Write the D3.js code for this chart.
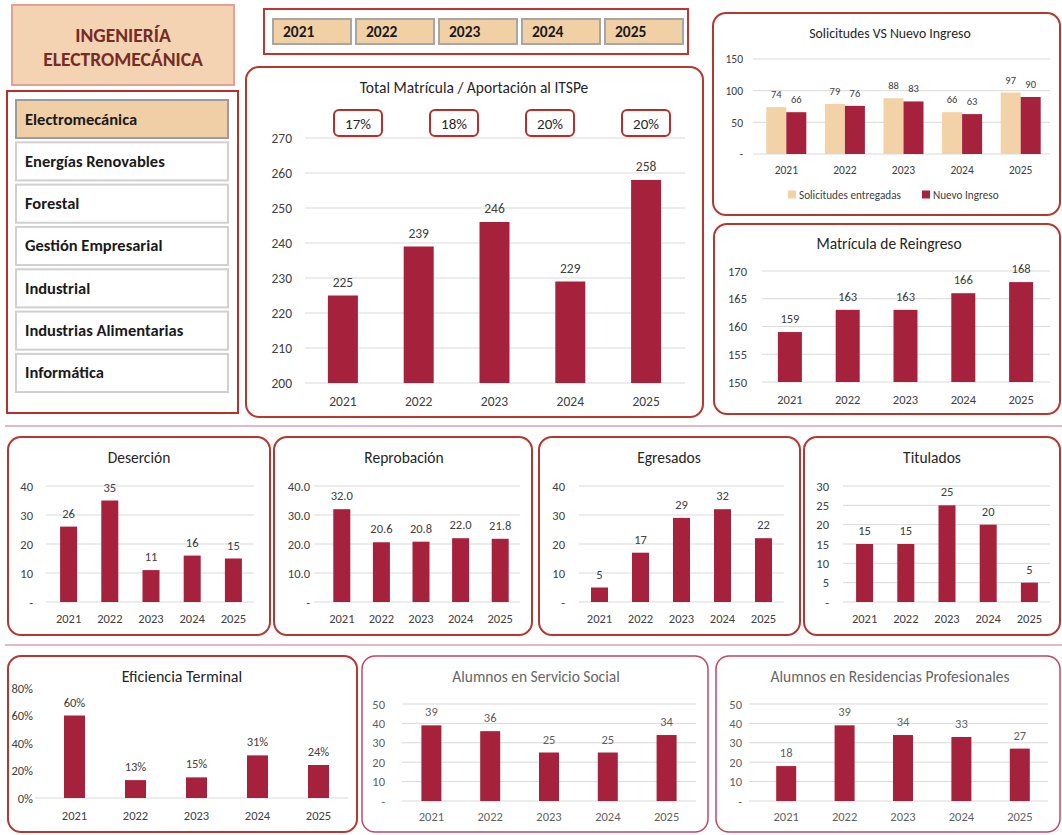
<!DOCTYPE html>
<html lang="es">
<head>
<meta charset="utf-8">
<script src="https://cdn.jsdelivr.net/npm/d3@7"></script>
<style>
  html, body { margin: 0; padding: 0; background: #ffffff; }
  svg { display: block; }
</style>
</head>
<body>
<script>
// ---- Data -------------------------------------------------------------
const years = ["2021", "2022", "2023", "2024", "2025"];
const carreras = ["Electromecánica", "Energías Renovables", "Forestal", "Gestión Empresarial",
                  "Industrial", "Industrias Alimentarias", "Informática"];
const totalMatricula = [225, 239, 246, 229, 258];
const aportacion = ["17%", "18%", "20%", "20%"];
const solicitudes = [74, 79, 88, 66, 97];
const nuevoIngreso = [66, 76, 83, 63, 90];
const reingreso = [159, 163, 163, 166, 168];
const desercion = [26, 35, 11, 16, 15];
const reprobacion = [32.0, 20.6, 20.8, 22.0, 21.8];
const egresados = [5, 17, 29, 32, 22];
const titulados = [15, 15, 25, 20, 5];
const eficiencia = [0.60, 0.13, 0.15, 0.31, 0.24];
const servicioSocial = [39, 36, 25, 25, 34];
const residencias = [18, 39, 34, 33, 27];

const ticksMatricula = [200, 210, 220, 230, 240, 250, 260, 270];
const ticksSolicitudes = [0, 50, 100, 150];
const ticksReingreso = [150, 155, 160, 165, 170];
const ticks40 = [0, 10, 20, 30, 40];
const ticks30 = [0, 5, 10, 15, 20, 25, 30];
const ticksEficiencia = [0, 0.2, 0.4, 0.6, 0.8];
const ticks50 = [0, 10, 20, 30, 40, 50];

// ---- Style ------------------------------------------------------------
const FONT = "Carlito, Calibri, Lato, 'Open Sans', sans-serif";
const BAR = "#a6213c";
const BEIGE = "#f2d2a6";
const PANEL_STROKE = "#b5382f";
const GRID = "#d9d9d9";
const TXT = "#404040";

const svg = d3.select("body").append("svg")
  .attr("width", 1062).attr("height", 835)
  .style("font-family", FONT);

// ---- Header and menu --------------------------------------------------
svg.append("rect").attr("x", 12).attr("y", 5).attr("width", 222).attr("height", 80)
  .attr("fill", "#f4d3b2").attr("stroke", "#e3a196").attr("stroke-width", 2);
svg.append("text").attr("x", 123).attr("y", 42).attr("text-anchor", "middle")
  .attr("font-size", 19.5).attr("font-weight", 700).attr("fill", "#762c26").text("INGENIERÍA");
svg.append("text").attr("x", 123).attr("y", 66).attr("text-anchor", "middle")
  .attr("font-size", 19.5).attr("font-weight", 700).attr("fill", "#762c26").text("ELECTROMECÁNICA");

svg.append("rect").attr("x", 264).attr("y", 9).attr("width", 424).attr("height", 45)
  .attr("fill", "#fff").attr("stroke", "#c0352f").attr("stroke-width", 2);
const yearBtn = d3.scaleBand().domain(years).range([273, 683]).paddingInner(0.06);
const btn = svg.append("g").selectAll("g").data(years).join("g")
  .attr("transform", d => `translate(${yearBtn(d)},19)`);
btn.append("rect").attr("width", yearBtn.bandwidth()).attr("height", 25)
  .attr("fill", "#f2d0a6").attr("stroke", "#a6a6a6").attr("stroke-width", 2);
btn.append("text").attr("x", 10).attr("y", 18).attr("font-size", 15.5).attr("font-weight", 700)
  .attr("fill", "#1a1a1a").text(d => d);

svg.append("rect").attr("x", 7).attr("y", 91).attr("width", 231).attr("height", 322)
  .attr("fill", "#fff").attr("stroke", "#b8302b").attr("stroke-width", 2);
const menuY = d3.scaleBand().domain(carreras).range([100, 392]).paddingInner(0.1);
const item = svg.append("g").selectAll("g").data(carreras).join("g")
  .attr("transform", d => `translate(16,${menuY(d)})`);
item.append("rect").attr("width", 212).attr("height", menuY.bandwidth())
  .attr("fill", (d, i) => i === 0 ? "#f1cfa6" : "#fff")
  .attr("stroke", (d, i) => i === 0 ? "#9c9c9c" : "#d0d0d0").attr("stroke-width", 2);
item.append("text").attr("x", 9).attr("y", menuY.bandwidth() / 2 + 5.5)
  .attr("font-size", 16.5).attr("font-weight", 700).attr("fill", "#1a1a1a").text(d => d);

// separators between rows
[426, 645].forEach(y => svg.append("line").attr("x1", 5).attr("x2", 1062)
  .attr("y1", y).attr("y2", y).attr("stroke", "#dba2b4").attr("stroke-width", 1.5));

// ---- Helpers ----------------------------------------------------------
function panel(x, y, w, h, stroke = PANEL_STROKE, sw = 2) {
  svg.append("rect").attr("x", x).attr("y", y).attr("width", w).attr("height", h)
    .attr("rx", 13).attr("ry", 13).attr("fill", "#fff").attr("stroke", stroke).attr("stroke-width", sw);
}

function dashZero(fmt) {
  return v => v === 0 ? "-" : fmt(v);
}

// generic single-series bar chart
function barChart(o) {
  const g = svg.append("g");
  const n = years.length;
  const step = (o.band[1] - o.band[0]) / n;
  const pad = 1 - o.barW / step;
  const x = d3.scaleBand().domain(years).range(o.band).paddingInner(pad).paddingOuter(pad / 2);
  const y = d3.scaleLinear().domain(o.domain).range(o.yRange);
  const color = o.color || TXT;
  const weight = o.weight || 400;

  g.append("text").attr("x", o.titleX).attr("y", o.titleY).attr("text-anchor", "middle")
    .attr("font-size", o.titleSize || 15.5).attr("fill", o.titleColor || "#262626")
    .attr("font-weight", weight).text(o.title);

  const gridTicks = o.gridAll === false ? [o.domain[0]] : o.ticks;
  g.append("g").selectAll("line").data(gridTicks).join("line")
    .attr("x1", o.grid[0]).attr("x2", o.grid[1])
    .attr("y1", d => y(d)).attr("y2", d => y(d))
    .attr("stroke", GRID).attr("stroke-width", 1);

  const ya = g.append("g").attr("transform", `translate(${o.tickX},0)`)
    .call(d3.axisLeft(y).tickValues(o.ticks).tickFormat(o.fmt).tickSize(0).tickPadding(0));
  ya.select(".domain").remove();
  ya.selectAll("text").attr("font-size", o.tickSize).attr("fill", color)
    .attr("font-weight", weight).style("font-family", FONT);

  const xa = g.append("g").attr("transform", `translate(0,${o.xLabY})`)
    .call(d3.axisBottom(x).tickSize(0).tickPadding(0));
  xa.select(".domain").remove();
  xa.selectAll("text").attr("font-size", o.tickSize).attr("fill", color)
    .attr("font-weight", weight).attr("dy", "0.35em").style("font-family", FONT);

  g.append("g").selectAll("rect").data(o.values).join("rect")
    .attr("x", (d, i) => x(years[i])).attr("width", x.bandwidth())
    .attr("y", d => y(d)).attr("height", d => y(o.domain[0]) - y(d))
    .attr("fill", BAR);

  g.append("g").selectAll("text").data(o.values).join("text")
    .attr("x", (d, i) => x(years[i]) + x.bandwidth() / 2)
    .attr("y", d => y(d) - (o.labelGap || 9))
    .attr("text-anchor", "middle").attr("font-size", o.valSize || o.tickSize)
    .attr("font-weight", weight).attr("fill", color).text(o.valFmt);
  return { x, y };
}

// ---- Total Matrícula / Aportación ------------------------------------
panel(246, 67, 457, 350);
barChart({
  title: "Total Matrícula / Aportación al ITSPe", titleX: 474, titleY: 93, titleSize: 15.5,
  values: totalMatricula, domain: [200, 270], yRange: [383, 138], ticks: ticksMatricula,
  fmt: d3.format("d"), valFmt: d3.format("d"), tickX: 292, grid: [305, 685],
  band: [305, 684], barW: 30, xLabY: 401, tickSize: 13.5, labelGap: 9
});
const pctX = d3.scalePoint().domain(aportacion.map((d, i) => i)).range([358, 646]);
const pct = svg.append("g").selectAll("g").data(aportacion).join("g")
  .attr("transform", (d, i) => `translate(${pctX(i)},123)`);
pct.append("rect").attr("x", -24).attr("y", -13).attr("width", 48).attr("height", 26)
  .attr("rx", 5).attr("fill", "#fff").attr("stroke", "#b3302c").attr("stroke-width", 2);
pct.append("text").attr("y", 5.5).attr("text-anchor", "middle").attr("font-size", 15)
  .attr("fill", "#262626").text(d => d);

// ---- Solicitudes VS Nuevo Ingreso ------------------------------------
panel(713, 13, 347, 202);
{
  const g = svg.append("g");
  const x0 = d3.scaleBand().domain(years).range([757, 1050]);
  const x1 = d3.scaleBand().domain(["s", "n"]).range([0, 40]);
  const off = (x0.bandwidth() - 40) / 2;
  const y = d3.scaleLinear().domain([0, 150]).range([154, 59]);
  g.append("text").attr("x", 890).attr("y", 38).attr("text-anchor", "middle")
    .attr("font-size", 13.8).attr("fill", "#262626").text("Solicitudes VS Nuevo Ingreso");
  g.append("g").selectAll("line").data(ticksSolicitudes).join("line")
    .attr("x1", 753).attr("x2", 1050).attr("y1", d => y(d)).attr("y2", d => y(d))
    .attr("stroke", GRID);
  const ya = g.append("g").attr("transform", "translate(743,0)")
    .call(d3.axisLeft(y).tickValues(ticksSolicitudes).tickFormat(dashZero(d3.format("d"))).tickSize(0).tickPadding(0));
  ya.select(".domain").remove();
  ya.selectAll("text").attr("font-size", 11.5).attr("fill", TXT).style("font-family", FONT);
  const xa = g.append("g").attr("transform", "translate(0,170)")
    .call(d3.axisBottom(x0).tickSize(0).tickPadding(0));
  xa.select(".domain").remove();
  xa.selectAll("text").attr("font-size", 11.5).attr("fill", TXT).attr("dy", "0.35em").style("font-family", FONT);

  const series = [
    { key: "s", values: solicitudes, color: BEIGE },
    { key: "n", values: nuevoIngreso, color: BAR }
  ];
  series.forEach(s => {
    g.append("g").selectAll("rect").data(s.values).join("rect")
      .attr("x", (d, i) => x0(years[i]) + off + x1(s.key)).attr("width", x1.bandwidth())
      .attr("y", d => y(d)).attr("height", d => y(0) - y(d)).attr("fill", s.color);
    g.append("g").selectAll("text").data(s.values).join("text")
      .attr("x", (d, i) => x0(years[i]) + off + x1(s.key) + x1.bandwidth() / 2)
      .attr("y", d => y(d) - 9).attr("text-anchor", "middle")
      .attr("font-size", 10.5).attr("fill", TXT).text(d => d);
  });
  const legend = [["Solicitudes entregadas", BEIGE, 788], ["Nuevo Ingreso", BAR, 922]];
  legend.forEach(([label, c, lx]) => {
    g.append("rect").attr("x", lx).attr("y", 190.5).attr("width", 8).attr("height", 8).attr("fill", c);
    g.append("text").attr("x", lx + 11).attr("y", 198.5).attr("font-size", 11.2).attr("fill", TXT).text(label);
  });
}

// ---- Matrícula de Reingreso -----------------------------------------
panel(714, 224, 346, 190);
barChart({
  title: "Matrícula de Reingreso", titleX: 889, titleY: 249, titleSize: 15.5,
  values: reingreso, domain: [150, 170], yRange: [382, 271], ticks: ticksReingreso,
  fmt: d3.format("d"), valFmt: d3.format("d"), tickX: 747, grid: [762, 1050],
  band: [761, 1050], barW: 24, xLabY: 400, tickSize: 12.5, labelGap: 9
});

// ---- Lower row -------------------------------------------------------
const rowY = [602, 486];
panel(8, 437, 262, 198);
barChart({
  title: "Deserción", titleX: 139, titleY: 463, values: desercion, domain: [0, 40], yRange: rowY,
  ticks: ticks40, fmt: dashZero(d3.format("d")), valFmt: d3.format("d"), tickX: 33,
  grid: [46, 254], band: [48, 254], barW: 17, xLabY: 619, tickSize: 12.5, labelGap: 9
});
panel(274, 437, 258, 198);
barChart({
  title: "Reprobación", titleX: 404, titleY: 463, values: reprobacion, domain: [0, 40], yRange: rowY,
  ticks: ticks40, fmt: dashZero(d3.format(".1f")), valFmt: d3.format(".1f"), tickX: 310,
  grid: [314, 520], band: [322, 520], barW: 17, xLabY: 619, tickSize: 12.5, labelGap: 9
});
panel(539, 437, 261, 198);
barChart({
  title: "Egresados", titleX: 669, titleY: 463, values: egresados, domain: [0, 40], yRange: rowY,
  ticks: ticks40, fmt: dashZero(d3.format("d")), valFmt: d3.format("d"), tickX: 565,
  grid: [579, 784], band: [579, 784], barW: 17, xLabY: 619, tickSize: 12.5, labelGap: 9
});
panel(804, 437, 256, 198);
barChart({
  title: "Titulados", titleX: 932, titleY: 463, values: titulados, domain: [0, 30], yRange: rowY,
  ticks: ticks30, fmt: dashZero(d3.format("d")), valFmt: d3.format("d"), tickX: 829,
  grid: [843, 1050], band: [844, 1050], barW: 17, xLabY: 619, tickSize: 12.5, labelGap: 9
});

// ---- Bottom row ------------------------------------------------------
panel(8, 656, 349, 176);
barChart({
  title: "Eficiencia Terminal", titleX: 182, titleY: 682, titleSize: 16, values: eficiencia,
  domain: [0, 0.8], yRange: [798, 688], ticks: ticksEficiencia, fmt: d3.format(".0%"),
  valFmt: d3.format(".0%"), tickX: 33, grid: [35, 348], gridAll: false, band: [44, 349],
  barW: 21, xLabY: 816, tickSize: 12.5, labelGap: 9
});
panel(362, 656, 346, 176, "#c2475f", 1.5);
barChart({
  title: "Alumnos en Servicio Social", titleX: 536, titleY: 682, titleSize: 15.5,
  titleColor: "#666666", values: servicioSocial, domain: [0, 50], yRange: [801, 704],
  ticks: ticks50, fmt: dashZero(d3.format("d")), valFmt: d3.format("d"), tickX: 385,
  grid: [402, 696], band: [402, 696], barW: 20, xLabY: 817, tickSize: 12.5, labelGap: 9,
  color: "#5f5f5f", weight: 300
});
panel(716, 656, 344, 176, "#c2475f", 1.5);
barChart({
  title: "Alumnos en Residencias Profesionales", titleX: 890, titleY: 682, titleSize: 15.5,
  titleColor: "#666666", values: residencias, domain: [0, 50], yRange: [801, 704],
  ticks: ticks50, fmt: dashZero(d3.format("d")), valFmt: d3.format("d"), tickX: 742,
  grid: [749, 1048], band: [757, 1049], barW: 20, xLabY: 817, tickSize: 12.5, labelGap: 9,
  color: "#5f5f5f", weight: 300
});
</script>
</body>
</html>
